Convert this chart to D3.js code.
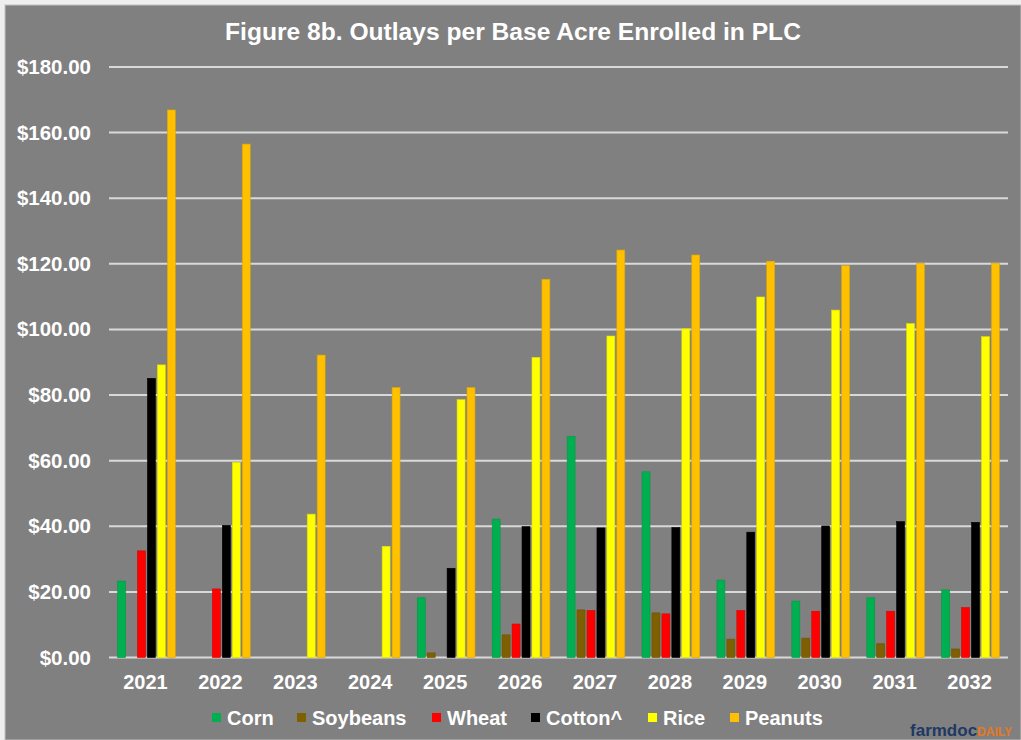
<!DOCTYPE html>
<html>
<head>
<meta charset="utf-8">
<script src="https://cdn.jsdelivr.net/npm/d3@7"></script>
<style>
  body { margin: 0; background: #eeeeee; }
  svg text { font-family: "Liberation Sans", Arial, sans-serif; font-weight: bold; }
</style>
</head>
<body>
<script>
//============================================================
// Data
var years = ["2021","2022","2023","2024","2025","2026","2027","2028","2029","2030","2031","2032"];
var seriesNames = ["Corn","Soybeans","Wheat","Cotton^","Rice","Peanuts"];
var seriesColors = ["#00B050","#7F6000","#FF0000","#000000","#FFFF00","#FFC000"];

var corn     = [23.3, 0, 0, 0, 18.2, 42.2, 67.4, 56.6, 23.6, 17.2, 18.2, 20.6];
var soybeans = [0, 0, 0, 0, 1.4, 6.9, 14.5, 13.6, 5.6, 5.9, 4.2, 2.6];
var wheat    = [32.5, 20.9, 0, 0, 0, 10.2, 14.3, 13.3, 14.3, 14.1, 14.1, 15.2];
var cotton   = [85.1, 40.3, 0, 0, 27.2, 39.9, 39.5, 39.6, 38.2, 40.1, 41.4, 41.2];
var rice     = [89.2, 59.5, 43.7, 33.9, 78.6, 91.5, 98.0, 100.2, 109.9, 105.9, 101.8, 97.8];
var peanuts  = [166.9, 156.5, 92.2, 82.3, 82.3, 115.3, 124.2, 122.7, 120.8, 119.5, 120.1, 120.1];
var allSeries = [corn, soybeans, wheat, cotton, rice, peanuts];

var yTicks = [0, 20, 40, 60, 80, 100, 120, 140, 160, 180];

//============================================================
// Set up SVG
var W = 1021, H = 740;
var svg = d3.select("body")
.append("svg")
.attr("width", W)
.attr("height", H);

svg.append("rect")
.attr("x", 5).attr("y", 5)
.attr("width", W - 5).attr("height", H - 5)
.style("fill", "#808080")
.style("stroke", "#bfbfbf")
.style("stroke-width", 1);

var plot = { left: 109, right: 1008, top: 67, bottom: 657.5 };

var x0 = d3.scaleBand()
.domain(years)
.range([plot.left, plot.right]);

var bw = x0.bandwidth();
var x1 = d3.scaleBand()
.domain(seriesNames)
.range([bw * 0.115, bw * 0.885])
.paddingInner(0.2);

var y = d3.scaleLinear()
.domain([0, 180])
.range([plot.bottom, plot.top]);

// title
svg.append("text")
.attr("x", 513).attr("y", 40)
.attr("text-anchor", "middle")
.style("fill", "#fff")
.style("font-size", "24.6px")
.text("Figure 8b. Outlays per Base Acre Enrolled in PLC");

// gridlines
svg.selectAll(".grid")
.data(yTicks)
.enter()
.append("line")
.attr("x1", plot.left).attr("x2", plot.right)
.attr("y1", function (d) { return y(d); })
.attr("y2", function (d) { return y(d); })
.style("stroke", "#d9d9d9")
.style("stroke-width", 2);

// y axis labels
svg.selectAll(".ylab")
.data(yTicks)
.enter()
.append("text")
.attr("x", 91)
.attr("y", function (d) { return y(d) + 7; })
.attr("text-anchor", "end")
.style("fill", "#fff")
.style("font-size", "20.5px")
.text(function (d) { return "$" + d3.format(".2f")(d); });

// x axis labels
svg.selectAll(".xlab")
.data(years)
.enter()
.append("text")
.attr("x", function (d) { return x0(d) + bw / 2 - 1; })
.attr("y", 689)
.attr("text-anchor", "middle")
.style("fill", "#fff")
.style("font-size", "20px")
.text(function (d) { return d; });

//============================================================
// Bars
var groups = svg.selectAll(".grp")
.data(years)
.enter()
.append("g")
.attr("transform", function (d) { return "translate(" + x0(d) + ",0)"; });

groups.selectAll("rect")
.data(function (d, i) {
  return seriesNames.map(function (s, k) { return { s: s, k: k, v: allSeries[k][i] }; });
})
.enter()
.append("rect")
.filter(function (d) { return d.v > 0; })
.attr("x", function (d) { return x1(d.s); })
.attr("y", function (d) { return y(d.v); })
.attr("width", x1.bandwidth())
.attr("height", function (d) { return y(0) - y(d.v); })
.style("fill", function (d) { return seriesColors[d.k]; })
.style("stroke", function (d) { return d3.color(seriesColors[d.k]).darker(0.4); })
.style("stroke-width", 0.6);

//============================================================
// Legend
var legendX = [212, 297, 432, 531, 648, 730];
var legend = svg.selectAll(".leg")
.data(seriesNames)
.enter()
.append("g")
.attr("transform", function (d, i) { return "translate(" + legendX[i] + ",718)"; });

legend.append("rect")
.attr("x", 0).attr("y", -5)
.attr("width", 9).attr("height", 9)
.style("fill", function (d, i) { return seriesColors[i]; });

legend.append("text")
.attr("x", 15).attr("y", 7)
.style("fill", "#fff")
.style("font-size", "20px")
.text(function (d) { return d; });

// logo
var logo = svg.append("text")
.attr("x", 1012).attr("y", 736)
.attr("text-anchor", "end")
.style("font-size", "17px");
logo.append("tspan").style("fill", "#1F3864").text("farmdoc");
logo.append("tspan").style("fill", "#E87722").style("font-size", "12px").text("DAILY");
</script>
</body>
</html>
